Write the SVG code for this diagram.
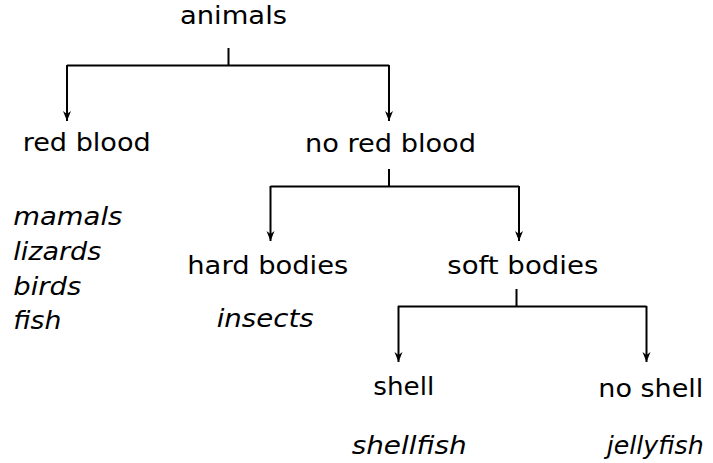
<svg xmlns="http://www.w3.org/2000/svg" width="713" height="463" viewBox="0 0 713 463">
<style>
.t{font-family:"DejaVu Sans",sans-serif;font-size:24px;fill:#000}
.i{font-style:italic}
.c{stroke:#000;stroke-width:2;fill:none}
</style>
<defs>
<marker id="ah" markerUnits="userSpaceOnUse" markerWidth="10" markerHeight="10" viewBox="0 0 10 10" refX="10" refY="5" orient="auto">
<path d="M0,1 L10,5 L0,9 L3,5 z" fill="#000"/>
</marker>
</defs>
<rect width="713" height="463" fill="#fff"/>
<g id="connectors">
<path class="c" d="M228.5,48 V65.5"/>
<path class="c" d="M67,65.5 H389"/>
<path class="c" d="M67,65 V121" marker-end="url(#ah)"/>
<path class="c" d="M389,65 V121" marker-end="url(#ah)"/>
<path class="c" d="M389,169 V186.5"/>
<path class="c" d="M270.5,186.5 H519"/>
<path class="c" d="M270.5,186 V241" marker-end="url(#ah)"/>
<path class="c" d="M519,186 V241" marker-end="url(#ah)"/>
<path class="c" d="M516.5,289 V306.5"/>
<path class="c" d="M398,306.5 H646.5"/>
<path class="c" d="M398.5,306 V362" marker-end="url(#ah)"/>
<path class="c" d="M646.5,306 V362" marker-end="url(#ah)"/>
</g>
<g id="animals"><text class="t" x="180" y="24" textLength="107" lengthAdjust="spacingAndGlyphs">animals</text></g>
<g id="red-blood">
<text class="t" x="22.7" y="151" textLength="128" lengthAdjust="spacingAndGlyphs">red blood</text>
<text class="t i" x="13.3" y="225" textLength="109" lengthAdjust="spacingAndGlyphs">mamals</text>
<text class="t i" x="13.3" y="260" textLength="88" lengthAdjust="spacingAndGlyphs">lizards</text>
<text class="t i" x="13.3" y="294.5" textLength="68" lengthAdjust="spacingAndGlyphs">birds</text>
<text class="t i" x="13.3" y="328.5" textLength="48" lengthAdjust="spacingAndGlyphs">fish</text>
</g>
<g id="no-red-blood"><text class="t" x="305" y="152" textLength="171" lengthAdjust="spacingAndGlyphs">no red blood</text></g>
<g id="hard-bodies">
<text class="t" x="187.3" y="274" textLength="161" lengthAdjust="spacingAndGlyphs">hard bodies</text>
<text class="t i" x="216.7" y="326.7" textLength="97" lengthAdjust="spacingAndGlyphs">insects</text>
</g>
<g id="soft-bodies"><text class="t" x="447.3" y="273.5" textLength="151" lengthAdjust="spacingAndGlyphs">soft bodies</text></g>
<g id="shell">
<text class="t" x="373.3" y="395" textLength="61" lengthAdjust="spacingAndGlyphs">shell</text>
<text class="t i" x="351.7" y="454" textLength="115" lengthAdjust="spacingAndGlyphs">shellfish</text>
</g>
<g id="no-shell">
<text class="t" x="598.3" y="397" textLength="105" lengthAdjust="spacingAndGlyphs">no shell</text>
<text class="t i" x="606.7" y="454" textLength="97" lengthAdjust="spacingAndGlyphs">jellyfish</text>
</g>
</svg>
